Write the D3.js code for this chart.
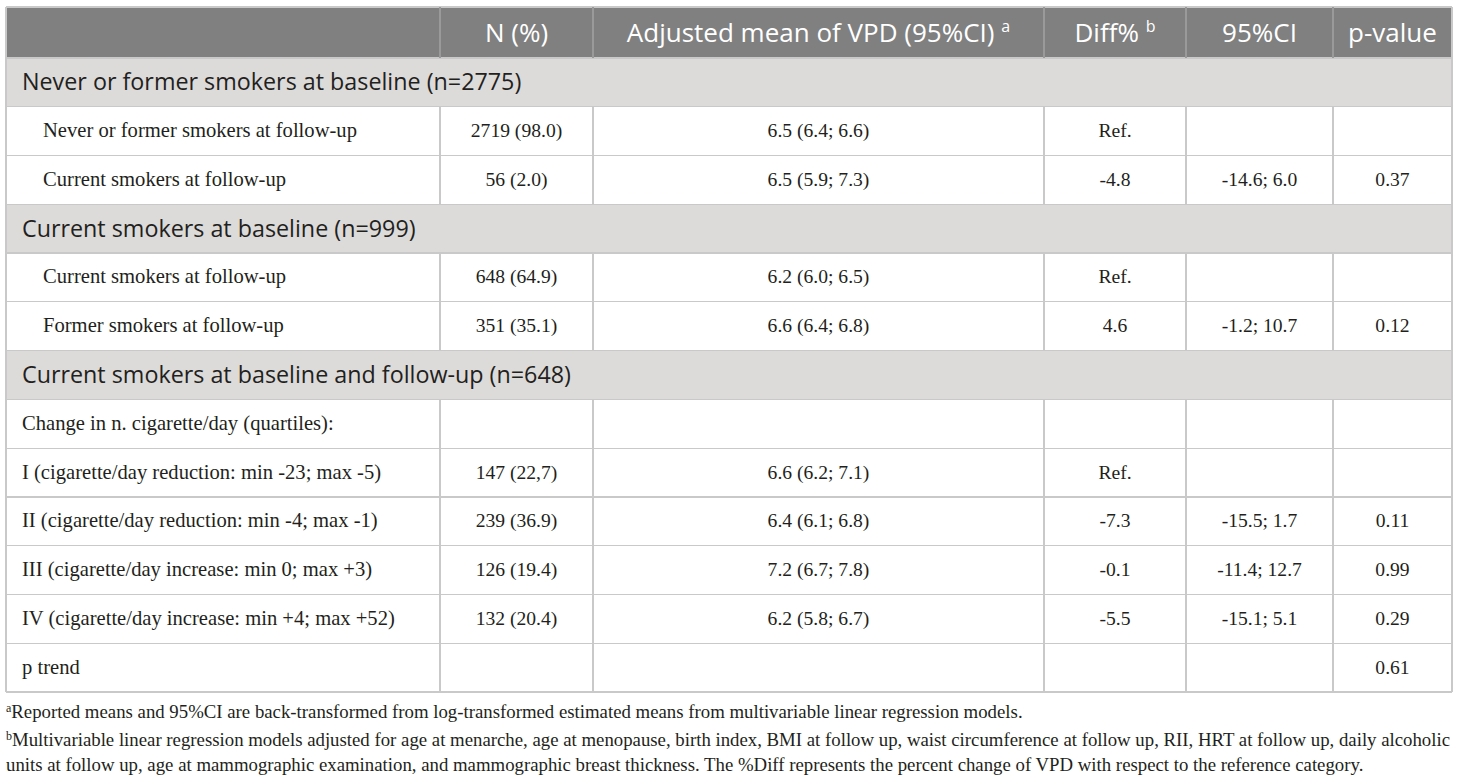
<!DOCTYPE html>
<html>
<head>
<meta charset="utf-8">
<script src="https://cdn.jsdelivr.net/npm/d3@7"></script>
<style>
  html, body { margin: 0; padding: 0; background: #fff; }
</style>
</head>
<body>
<div id="table"></div>
<script>
// Column headers (sup = superscript footnote mark)
var headers = [
    { text: '', sup: '' },
    { text: 'N (%)', sup: '' },
    { text: 'Adjusted mean of VPD (95%CI)', sup: 'a' },
    { text: 'Diff%', sup: 'b' },
    { text: '95%CI', sup: '' },
    { text: 'p-value', sup: '' }
];

// Row kind: 's' = section heading, 'd' = indented data row, 'q' = quartile row
var rowKinds = ['s', 'd', 'd', 's', 'd', 'd', 's', 'q', 'q', 'q', 'q', 'q', 'q'];

var rowLabels = [
    'Never or former smokers at baseline (n=2775)',
    'Never or former smokers at follow-up',
    'Current smokers at follow-up',
    'Current smokers at baseline (n=999)',
    'Current smokers at follow-up',
    'Former smokers at follow-up',
    'Current smokers at baseline and follow-up (n=648)',
    'Change in n. cigarette/day (quartiles):',
    'I (cigarette/day reduction: min -23; max -5)',
    'II (cigarette/day reduction: min -4; max -1)',
    'III (cigarette/day increase: min 0; max +3)',
    'IV (cigarette/day increase: min +4; max +52)',
    'p trend'
];

var nPercent = ['', '2719 (98.0)', '56 (2.0)', '', '648 (64.9)', '351 (35.1)', '',
    '', '147 (22,7)', '239 (36.9)', '126 (19.4)', '132 (20.4)', ''];

var meanVPD = ['', '6.5 (6.4; 6.6)', '6.5 (5.9; 7.3)', '', '6.2 (6.0; 6.5)', '6.6 (6.4; 6.8)', '',
    '', '6.6 (6.2; 7.1)', '6.4 (6.1; 6.8)', '7.2 (6.7; 7.8)', '6.2 (5.8; 6.7)', ''];

var diffPct = ['', 'Ref.', '-4.8', '', 'Ref.', '4.6', '',
    '', 'Ref.', '-7.3', '-0.1', '-5.5', ''];

var diffCI = ['', '', '-14.6; 6.0', '', '', '-1.2; 10.7', '',
    '', '', '-15.5; 1.7', '-11.4; 12.7', '-15.1; 5.1', ''];

var pValues = ['', '', '0.37', '', '', '0.12', '',
    '', '', '0.11', '0.99', '0.29', '0.61'];

var footnotes = [
    { sup: 'a', lines: ['Reported means and 95%CI are back-transformed from log-transformed estimated means from multivariable linear regression models.'] },
    { sup: 'b', lines: [
        'Multivariable linear regression models adjusted for age at menarche, age at menopause, birth index, BMI at follow up, waist circumference at follow up, RII, HRT at follow up, daily alcoholic',
        'units at follow up, age at mammographic examination, and mammographic breast thickness. The %Diff represents the percent change of VPD with respect to the reference category.'
    ] }
];

// Layout
var W = 1460, H = 779;
var colEdges = [6, 440, 593, 1044, 1186, 1333, 1452];
var headTop = 7, headBottom = 58, bodyBottom = 692;

var sansFont = '"Open Sans", sans-serif',
    serifFont = '"Liberation Serif", "Times New Roman", serif';

var colors = {
    headBg: '#808080',
    headText: '#ffffff',
    sectionBg: '#dcdbda',
    border: '#c9c9c9',
    text: '#231f20'
};

var svg = d3.select('#table')
    .append('svg')
    .attr('width', W)
    .attr('height', H);

// Row scale for the table body
var rowIdx = d3.range(rowLabels.length);
var yScale = d3.scaleBand()
    .domain(rowIdx)
    .range([headBottom, bodyBottom]);

// Middle of a column
var colMid = function(i) { return (colEdges[i] + colEdges[i + 1]) / 2; };
var tableLeft = colEdges[0],
    tableRight = colEdges[colEdges.length - 1];

// Header background
svg.append('rect')
    .attr('x', tableLeft)
    .attr('y', headTop)
    .attr('width', tableRight - tableLeft)
    .attr('height', headBottom - headTop)
    .attr('fill', colors.headBg);

// Body row backgrounds
svg.append('g').selectAll('rect')
    .data(rowIdx)
    .enter()
    .append('rect')
    .attr('x', tableLeft)
    .attr('y', function(i) { return yScale(i); })
    .attr('width', tableRight - tableLeft)
    .attr('height', yScale.bandwidth())
    .attr('fill', function(i) { return rowKinds[i] == 's' ? colors.sectionBg : '#fff'; });

// Grid lines
var grid = svg.append('g')
    .attr('stroke', colors.border)
    .attr('stroke-width', 1.3)
    .attr('shape-rendering', 'crispEdges');

// Horizontal lines at each body row boundary
grid.selectAll('line.h')
    .data(rowIdx.concat([rowLabels.length]))
    .enter()
    .append('line')
    .attr('x1', tableLeft)
    .attr('x2', tableRight)
    .attr('y1', function(i) { return i < rowLabels.length ? yScale(i) : bodyBottom; })
    .attr('y2', function(i) { return i < rowLabels.length ? yScale(i) : bodyBottom; });

// Top line of header
grid.append('line')
    .attr('x1', tableLeft).attr('x2', tableRight)
    .attr('y1', headTop).attr('y2', headTop);

// Outer vertical edges
[tableLeft, tableRight].forEach(function(x) {
    grid.append('line')
        .attr('x1', x).attr('x2', x)
        .attr('y1', headTop).attr('y2', bodyBottom);
});

// Inner vertical lines in the header (slightly lighter on gray)
colEdges.slice(1, -1).forEach(function(x) {
    svg.append('line')
        .attr('x1', x).attr('x2', x)
        .attr('y1', headTop).attr('y2', headBottom)
        .attr('stroke', '#9a9a9a')
        .attr('stroke-width', 1.3)
        .attr('shape-rendering', 'crispEdges');
});

// Inner vertical lines in non-section rows
rowIdx.forEach(function(i) {
    if (rowKinds[i] == 's') { return; }
    colEdges.slice(1, -1).forEach(function(x) {
        grid.append('line')
            .attr('x1', x).attr('x2', x)
            .attr('y1', yScale(i)).attr('y2', yScale(i) + yScale.bandwidth());
    });
});

// Header text
var headG = svg.append('g');
headers.forEach(function(h, i) {
    if (h.text == '') { return; }
    var t = headG.append('text')
        .attr('x', colMid(i))
        .attr('y', (headTop + headBottom) / 2 + 9)
        .attr('text-anchor', 'middle')
        .attr('font-family', sansFont)
        .attr('font-size', '26px')
        .attr('fill', colors.headText);
    t.append('tspan').text(h.text);
    if (h.sup != '') {
        t.append('tspan').text('\u00a0');
        t.append('tspan')
            .attr('font-size', '16px')
            .attr('dy', -10)
            .text(h.sup);
    }
});

// Body text
var bodyG = svg.append('g');
var cellCols = [nPercent, meanVPD, diffPct, diffCI, pValues];

rowIdx.forEach(function(i) {
    var cy = yScale(i) + yScale.bandwidth() / 2;
    var kind = rowKinds[i];

    if (kind == 's') {
        bodyG.append('text')
            .attr('x', 22)
            .attr('y', cy + 8)
            .attr('font-family', sansFont)
            .attr('font-size', '23.3px')
            .attr('fill', colors.text)
            .text(rowLabels[i]);
        return;
    }

    bodyG.append('text')
        .attr('x', kind == 'd' ? 43 : 22)
        .attr('y', cy + 6)
        .attr('font-family', serifFont)
        .attr('font-size', '20.6px')
        .attr('fill', colors.text)
        .text(rowLabels[i]);

    cellCols.forEach(function(col, c) {
        if (col[i] == '') { return; }
        bodyG.append('text')
            .attr('x', colMid(c + 1))
            .attr('y', cy + 6)
            .attr('text-anchor', 'middle')
            .attr('font-family', serifFont)
            .attr('font-size', '19.6px')
            .attr('fill', colors.text)
            .text(col[i]);
    });
});

// Footnotes
var footG = svg.append('g')
    .attr('font-family', serifFont)
    .attr('fill', colors.text);
var footY = [718, 746, 771];
var lineNo = 0;
footnotes.forEach(function(f) {
    f.lines.forEach(function(line, j) {
        var t = footG.append('text')
            .attr('x', tableLeft)
            .attr('y', footY[lineNo])
            .attr('font-size', '18.8px');
        if (j == 0) {
            t.append('tspan')
                .attr('font-size', '12px')
                .attr('dy', -6)
                .text(f.sup);
            t.append('tspan')
                .attr('dy', 6)
                .text(line);
        } else {
            t.text(line);
        }
        // Justify wrapped lines that are not the last of their note
        if (j < f.lines.length - 1) {
            t.attr('textLength', tableRight - tableLeft - 2)
             .attr('lengthAdjust', 'spacing');
        }
        lineNo++;
    });
});
</script>
</body>
</html>
